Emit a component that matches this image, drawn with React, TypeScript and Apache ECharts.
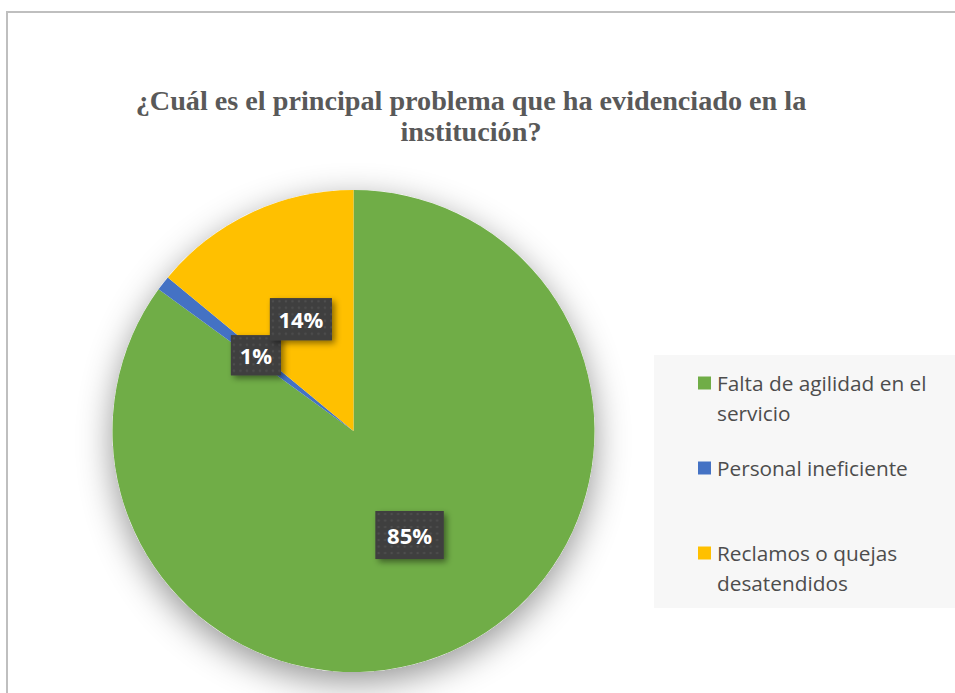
import React, { useEffect, useRef } from "react";
import * as echarts from "echarts";

// Survey answers and their shares (percent)
const categories = [
  "Falta de agilidad en el servicio",
  "Personal ineficiente",
  "Reclamos o quejas desatendidos",
];
const percents = [85, 1, 14];
const sliceColors = ["#70AD47", "#4472C4", "#FFC000"];
// Line breaks used in the legend entries
const legendLines = [
  ["Falta de agilidad en el", "servicio"],
  ["Personal ineficiente"],
  ["Reclamos o quejas", "desatendidos"],
];
const titleText = "¿Cuál es el principal problema que ha evidenciado en la\ninstitución?";

const legendTops = [368, 453, 538];
// Data-label box sizes [width, height] and nudges per slice
const labelBoxes = [
  [68, 48],
  [50, 40],
  [62, 42],
];
const labelNudges = [
  [0, -6],
  [0, 0],
  [0, 0],
];

// Dark dotted texture for the data-label boxes
function makeDotTexture(w: number, h: number): string {
  const c = document.createElement("canvas");
  c.width = w;
  c.height = h;
  const ctx = c.getContext("2d");
  if (!ctx) return "";
  ctx.fillStyle = "#3F3F3F";
  ctx.fillRect(0, 0, w, h);
  ctx.fillStyle = "#4E4E4E";
  for (let y = 3; y < h; y += 6.5) {
    for (let x = 3; x < w; x += 6.5) {
      ctx.beginPath();
      ctx.arc(x, y, 1.3, 0, Math.PI * 2);
      ctx.fill();
    }
  }
  return c.toDataURL();
}

export default function App() {
  const ref = useRef<HTMLDivElement>(null);

  useEffect(() => {
    if (!ref.current) return;
    const chart = echarts.init(ref.current, undefined, { renderer: "svg" });

    const richBase: any = {
      t: { fontFamily: "Open Sans", fontSize: 20.8, color: "#4D4D4D", lineHeight: 30, verticalAlign: "middle" },
      sp: { width: 19, lineHeight: 30 },
    };
    sliceColors.forEach((c, i) => {
      richBase["k" + i] = { width: 13, height: 13, backgroundColor: c, lineHeight: 30, verticalAlign: "middle" };
      richBase["g" + i] = { width: 6, lineHeight: 30 };
    });

    const legends = categories.map((name, i) => ({
      data: [name],
      left: 693,
      top: legendTops[i],
      orient: "vertical",
      padding: 0,
      itemWidth: 0,
      itemHeight: 0,
      icon: "rect",
      selectedMode: false,
      formatter: () =>
        legendLines[i]
          .map((line, j) => (j === 0 ? `{k${i}|}{g${i}|}{t|${line}}` : `{sp|}{t|${line}}`))
          .join("\n"),
      textStyle: { rich: richBase, lineHeight: 30 },
    }));

    // Rich styles for the percentage boxes: textured token over a shadowed plate
    const labelRich: any = {};
    labelBoxes.forEach(([w, h], i) => {
      const tex = makeDotTexture(w, h);
      labelRich["v" + i] = {
        width: w,
        height: h,
        lineHeight: h,
        align: "center",
        verticalAlign: "middle",
        fontFamily: "Open Sans",
        fontWeight: "bold",
        fontSize: 22,
        color: "#FFFFFF",
        backgroundColor: tex ? { image: tex } : "#404040",
      };
    });

    chart.setOption({
      animation: false,
      backgroundColor: "#FFFFFF",
      title: {
        text: titleText,
        left: 471,
        top: 85,
        padding: 0,
        textAlign: "center",
        textStyle: {
          fontFamily: "Liberation Serif",
          fontWeight: "bold",
          fontSize: 28.2,
          lineHeight: 31,
          color: "#595959",
        },
      },
      legend: legends,
      graphic: [
        {
          type: "rect",
          z: -10,
          shape: { x: 7, y: 12, width: 980, height: 720 },
          style: { fill: "#FFFFFF", stroke: "#BFBFBF", lineWidth: 2 },
          silent: true,
        },
        {
          type: "rect",
          z: -5,
          shape: { x: 654, y: 355, width: 320, height: 253 },
          style: { fill: "#F7F7F7" },
          silent: true,
        },
      ],
      series: [
        {
          // soft drop shadow beneath the whole pie
          type: "pie",
          silent: true,
          z: 1,
          center: [353.5, 431],
          radius: [0, 241],
          label: { show: false },
          labelLine: { show: false },
          itemStyle: {
            color: "#FFFFFF",
            shadowBlur: 34,
            shadowOffsetY: 10,
            shadowColor: "rgba(0,0,0,0.42)",
          },
          data: [{ value: 1, name: "_shadow" }],
        },
        {
          type: "pie",
          z: 2,
          center: [353.5, 431],
          radius: [0, 241],
          startAngle: 90,
          clockwise: true,
          avoidLabelOverlap: false,
          labelLayout: { hideOverlap: false },
          itemStyle: { borderWidth: 0 },
          label: {
            show: true,
            position: "inside",
            formatter: (p: any) => `{v${p.dataIndex}|${p.value}%}`,
            rich: labelRich,
            padding: 0,
            backgroundColor: "#404040",
            shadowBlur: 6,
            shadowOffsetX: 3,
            shadowOffsetY: 3,
            shadowColor: "rgba(0,0,0,0.45)",
          },
          labelLine: { show: false },
          emphasis: { disabled: true },
          data: categories.map((name, i) => ({
            name,
            value: percents[i],
            itemStyle: { color: sliceColors[i] },
            label: { offset: labelNudges[i] },
          })),
        },
      ],
    });

    return () => chart.dispose();
  }, []);

  return (
    <div
      ref={ref}
      style={{ position: "fixed", left: 0, top: 0, width: 955, height: 693 }}
    />
  );
}
